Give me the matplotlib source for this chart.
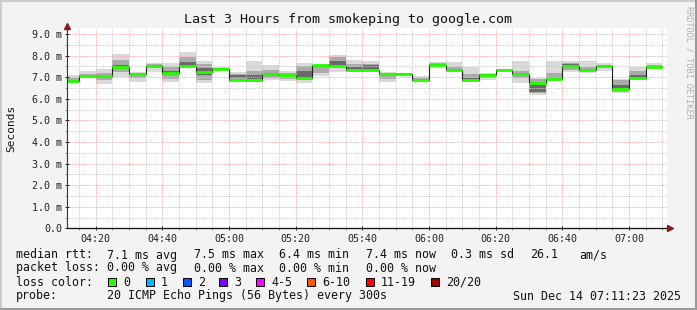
import numpy as np
import pandas as pd
import matplotlib
matplotlib.use('Agg')
import matplotlib.pyplot as plt
import matplotlib.dates as mdates
from matplotlib.patches import Rectangle
from matplotlib.lines import Line2D

# 5 minute bins (rrd step), start of each bin
bin_start = pd.date_range("2025-12-14 04:10", periods=36, freq="5min")
t_start = pd.Timestamp("2025-12-14 04:11:23")
t_end = pd.Timestamp("2025-12-14 07:11:23")

# median rtt in ms
median = [6.83, 7.03, 7.03, 7.47, 7.16, 7.53, 7.20, 7.53, 7.25, 7.39, 6.87, 6.85,
          7.16, 7.12, 6.95, 7.54, 7.52, 7.34, 7.32, 7.15, 7.16, 6.88, 7.58, 7.33,
          6.87, 7.12, 7.34, 7.15, 6.73, 6.92, 7.51, 7.34, 7.53, 6.46, 6.97, 7.46]

# smoke: outer (min/max), middle and inner ping spread, ms
smoke_lo = [6.75, 6.94, 6.68, 7.00, 6.79, 7.25, 6.77, 7.45, 6.74, 7.30, 6.83, 6.78,
            6.87, 6.80, 6.74, 7.05, 7.25, 7.25, 7.25, 6.79, 7.12, 6.83, 7.41, 7.25,
            6.79, 6.87, 7.30, 6.74, 6.17, 6.87, 7.22, 7.20, 7.30, 6.28, 6.90, 7.41]
smoke_hi = [7.12, 7.28, 7.37, 8.05, 7.24, 7.67, 7.64, 8.15, 7.74, 7.45, 7.25, 7.75,
            7.55, 7.27, 7.67, 7.58, 8.00, 7.77, 7.75, 7.25, 7.20, 7.05, 7.68, 7.72,
            7.48, 7.20, 7.38, 7.76, 6.97, 7.76, 7.76, 7.76, 7.64, 6.90, 7.45, 7.67]
mid_lo = [6.78, 6.98, 6.85, 7.25, 6.95, 7.40, 6.90, 7.50, 6.85, 7.33, 6.86, 6.84,
          6.95, 6.90, 6.88, 7.20, 7.45, 7.30, 7.28, 6.90, 7.14, 6.86, 7.50, 7.30,
          6.83, 6.95, 7.32, 6.95, 6.25, 6.90, 7.35, 7.30, 7.45, 6.30, 6.95, 7.45]
mid_hi = [6.95, 7.15, 7.20, 7.80, 7.20, 7.62, 7.45, 7.95, 7.60, 7.42, 7.15, 7.30,
          7.35, 7.20, 7.50, 7.55, 7.95, 7.60, 7.60, 7.18, 7.18, 6.95, 7.64, 7.45,
          7.15, 7.16, 7.36, 7.30, 6.90, 7.20, 7.65, 7.45, 7.56, 6.85, 7.30, 7.55]
in_lo = [6.80, 7.00, 6.95, 7.40, 7.10, 7.50, 7.10, 7.52, 7.10, 7.36, 6.95, 6.90,
         7.05, 7.05, 6.95, 7.45, 7.50, 7.33, 7.35, 7.10, 7.15, 6.87, 7.55, 7.32,
         6.86, 7.05, 7.33, 7.10, 6.30, 6.91, 7.45, 7.33, 7.50, 6.38, 6.96, 7.48]
in_hi = [6.86, 7.06, 7.06, 7.55, 7.18, 7.58, 7.30, 7.70, 7.40, 7.40, 7.08, 7.10,
         7.20, 7.15, 7.30, 7.55, 7.75, 7.45, 7.55, 7.16, 7.17, 6.90, 7.62, 7.36,
         6.95, 7.14, 7.35, 7.20, 6.63, 6.95, 7.60, 7.36, 7.54, 6.65, 7.10, 7.52]

loss_labels = ["0", "1", "2", "3", "4-5", "6-10", "11-19", "20/20"]
loss_colors = ["#26ff00", "#00b8ff", "#0059ff", "#7e00ff", "#ff00ff", "#ff5500", "#ff0000", "#a10000"]

W, H = 697, 310
BG = "#f3f3f3"
MONO = "DejaVu Sans Mono"
plt.rcParams['font.family'] = MONO


def fx(x):
    return x / W


def fy(y):
    return 1 - y / H


fig = plt.figure(figsize=(W / 100, H / 100), dpi=100, facecolor=BG)
ax = fig.add_axes([fx(67), fy(228.3), 600 / W, 200 / H])
ax.set_facecolor("white")

x = mdates.date2num(bin_start)
width = 5 / (24 * 60)
med = np.array(median)

# smoke layers
ax.bar(x, np.array(smoke_hi) - np.array(smoke_lo), bottom=smoke_lo, width=width,
       align='edge', color="#dadada", linewidth=0)
ax.bar(x, np.array(mid_hi) - np.array(mid_lo), bottom=mid_lo, width=width,
       align='edge', color="#ababab", linewidth=0)
ax.bar(x, np.array(in_hi) - np.array(in_lo), bottom=in_lo, width=width,
       align='edge', color="#6a6a6a", linewidth=0)

# median line: dark step then green
xs = np.append(x, x[-1] + width)
ax.step(xs, np.append(med, med[-1]), where='post', color="#202020", lw=0.8, zorder=3)
ax.hlines(med, x, x + width, color=loss_colors[0], lw=2.0, zorder=4)

ax.set_xlim(mdates.date2num(t_start), mdates.date2num(t_end))
ax.set_ylim(0, 200 / 21.6)

ax.xaxis.set_major_locator(mdates.MinuteLocator(byminute=[0, 20, 40]))
ax.xaxis.set_minor_locator(mdates.MinuteLocator(byminute=range(0, 60, 5)))
ax.xaxis.set_major_formatter(mdates.DateFormatter('%H:%M'))
yt = np.arange(0, 10)
ax.set_yticks(yt)
ax.set_yticklabels(["0.0"] + [f"{v:.1f} m" for v in yt[1:]])
ax.set_yticks(np.arange(0.5, 9.5, 1.0), minor=True)

ax.set_axisbelow('line')
ax.grid(which='minor', color="#cccccc", linestyle=(0, (1, 1)), lw=0.75)
ax.grid(which='major', color="#f5b0b0", linestyle=(0, (1, 1)), lw=0.75)

for s in ax.spines.values():
    s.set_visible(False)
ax.tick_params(which='major', length=2.5, width=0.7, direction='inout',
               labelsize=7.2, colors="#222222", pad=2)
ax.tick_params(which='minor', length=1.5, width=0.6, direction='out', colors="#777777")
ax.tick_params(axis='x', which='major', pad=3)

# axes with arrows
ax.add_line(Line2D([0, 0], [0, 1.01], transform=ax.transAxes, color="#333333",
                   lw=0.8, clip_on=False, zorder=6))
ax.add_line(Line2D([0, 1.005], [0, 0], transform=ax.transAxes, color="#111111",
                   lw=0.9, clip_on=False, zorder=6))
ax.plot([0], [1.01], marker='^', ms=4.5, color="#8b1a1a", transform=ax.transAxes,
        clip_on=False, zorder=7)
ax.plot([1.005], [0], marker='>', ms=4.5, color="#8b1a1a", transform=ax.transAxes,
        clip_on=False, zorder=7)

# titles
fig.text(fx(348), fy(19), "Last 3 Hours from smokeping to google.com", ha='center',
         va='center', fontsize=9.6, color="#111111")
fig.text(fx(11), fy(128), "Seconds", rotation=90, ha='center', va='center',
         fontsize=8, color="#111111")
fig.text(fx(689), fy(6), "RRDTOOL / TOBI OETIKER", rotation=270, ha='center', va='top',
         fontsize=6.1, color="#b0b0b0")

# legend block
LS = 8.4
rows = {
    255: [(16, "median rtt:"), (107, "7.1 ms avg"), (194, "7.5 ms max"), (279, "6.4 ms min"),
          (366, "7.4 ms now"), (451, "0.3 ms sd"), (530, "26.1"), (579, "am/s")],
    268: [(16, "packet loss:"), (107, "0.00 % avg"), (194, "0.00 % max"),
          (279, "0.00 % min"), (366, "0.00 % now")],
    282: [(16, "loss color:")],
    296: [(16, "probe:"), (107, "20 ICMP Echo Pings (56 Bytes) every 300s")],
}
for yy, items in rows.items():
    for xx, s in items:
        fig.text(fx(xx), fy(yy), s, ha='left', va='center', fontsize=LS, color="#111111")
fig.text(fx(681), fy(296), "Sun Dec 14 07:11:23 2025", ha='right', va='center',
         fontsize=LS, color="#111111")

box_x = [108, 146, 183, 219, 256, 307, 366, 431]
for bx, lab, col in zip(box_x, loss_labels, loss_colors):
    fig.patches.append(Rectangle((fx(bx), fy(286)), 8 / W, 8 / H, transform=fig.transFigure,
                                 facecolor=col, edgecolor="black", lw=0.7))
    fig.text(fx(bx + 15), fy(282), lab, ha='left', va='center', fontsize=LS, color="#111111")

# 3d frame
fig.add_artist(Line2D([0, 1], [fy(0.5), fy(0.5)], transform=fig.transFigure, color="#cbcbcb", lw=1.5))
fig.add_artist(Line2D([fx(0.5), fx(0.5)], [0, 1], transform=fig.transFigure, color="#cbcbcb", lw=1.5))
fig.add_artist(Line2D([0, 1], [fy(309), fy(309)], transform=fig.transFigure, color="#999999", lw=1.5))
fig.add_artist(Line2D([fx(696), fx(696)], [0, 1], transform=fig.transFigure, color="#999999", lw=1.5))

fig.savefig("out.png", dpi=100, facecolor=BG)
